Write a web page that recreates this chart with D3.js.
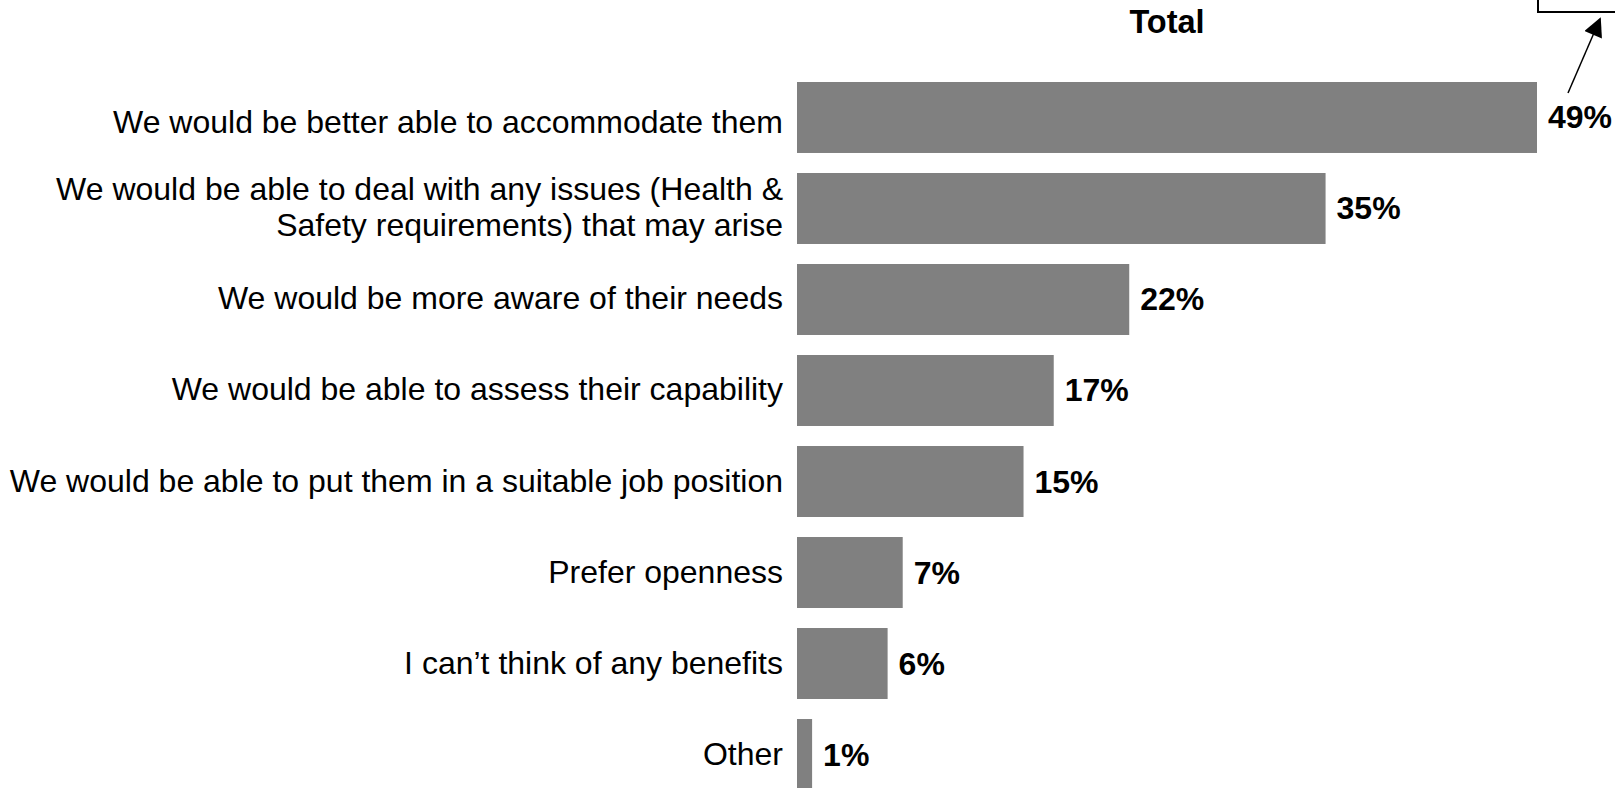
<!DOCTYPE html>
<html>
<head>
<meta charset="utf-8">
<script src="https://cdn.jsdelivr.net/npm/d3@7"></script>
<style>
  body { margin: 0; background: #fff; }
  svg { display: block; font-family: "Liberation Sans", Arial, sans-serif; }
  .bar { fill: #808080; }
  .cat { font-size: 32px; fill: #000; }
  .val { font-size: 32px; font-weight: bold; fill: #000; }
  .title { font-size: 32.5px; font-weight: bold; fill: #000; }
</style>
</head>
<body>
<script>
var categories = [
  ["We would be better able to accommodate them"],
  ["We would be able to deal with any issues (Health &", "Safety requirements) that may arise"],
  ["We would be more aware of their needs"],
  ["We would be able to assess their capability"],
  ["We would be able to put them in a suitable job position"],
  ["Prefer openness"],
  ["I can\u2019t think of any benefits"],
  ["Other"]
];

var values = [49, 35, 22, 17, 15, 7, 6, 1];

var seriesName = "Total";

var width = 1615,
    height = 788,
    plotLeft = 797,
    plotRight = 1537,
    lineHeight = 36;

var svg = d3.select("body")
            .append("svg")
            .attr("width", width)
            .attr("height", height);

var keys = categories.map(function(d) { return d.join(" "); });

var y = d3.scaleBand()
          .domain(keys)
          .range([82, 790])
          .paddingInner(0.22);

var x = d3.scaleLinear()
          .domain([0, d3.max(values)])
          .range([plotLeft, plotRight]);

// bars
svg.selectAll(".bar")
   .data(values)
   .enter()
   .append("rect")
   .attr("class", "bar")
   .attr("x", x(0))
   .attr("y", function(d, i) { return y(keys[i]); })
   .attr("width", function(d) { return x(d) - x(0); })
   .attr("height", y.bandwidth());

// value labels
svg.selectAll(".val")
   .data(values)
   .enter()
   .append("text")
   .attr("class", "val")
   .attr("x", function(d) { return x(d) + 11; })
   .attr("y", function(d, i) { return y(keys[i]) + y.bandwidth() / 2 + 11; })
   .text(function(d) { return d + "%"; });

// category labels
var cat = svg.selectAll(".cat")
   .data(categories)
   .enter()
   .append("text")
   .attr("class", "cat")
   .attr("text-anchor", "end");

cat.selectAll("tspan")
   .data(function(d, i) {
     var mid = y(keys[i]) + y.bandwidth() / 2 + 10;
     if (i == 0) mid += 6;
     return d.map(function(line, j) {
       return { text: line, y: mid + (j - (d.length - 1) / 2) * lineHeight };
     });
   })
   .enter()
   .append("tspan")
   .attr("x", plotLeft - 14)
   .attr("y", function(d) { return d.y; })
   .text(function(d) { return d.text; });

// series title
svg.append("text")
   .attr("class", "title")
   .attr("text-anchor", "middle")
   .attr("x", (plotLeft + plotRight) / 2)
   .attr("y", 33)
   .text(seriesName);

// callout box and arrow, top right
svg.append("rect")
   .attr("x", 1538)
   .attr("y", -10)
   .attr("width", 100)
   .attr("height", 22)
   .attr("fill", "#fff")
   .attr("stroke", "#000")
   .attr("stroke-width", 2);

svg.append("defs")
   .append("marker")
   .attr("id", "head")
   .attr("viewBox", "0 0 10 10")
   .attr("refX", 9)
   .attr("refY", 5)
   .attr("markerUnits", "userSpaceOnUse")
   .attr("markerWidth", 20)
   .attr("markerHeight", 19)
   .attr("orient", "auto")
   .append("path")
   .attr("d", "M0,0L10,5L0,10Z")
   .attr("fill", "#000");

svg.append("line")
   .attr("x1", 1568)
   .attr("y1", 93)
   .attr("x2", 1600)
   .attr("y2", 19)
   .attr("stroke", "#000")
   .attr("stroke-width", 1.5)
   .attr("marker-end", "url(#head)");
</script>
</body>
</html>
